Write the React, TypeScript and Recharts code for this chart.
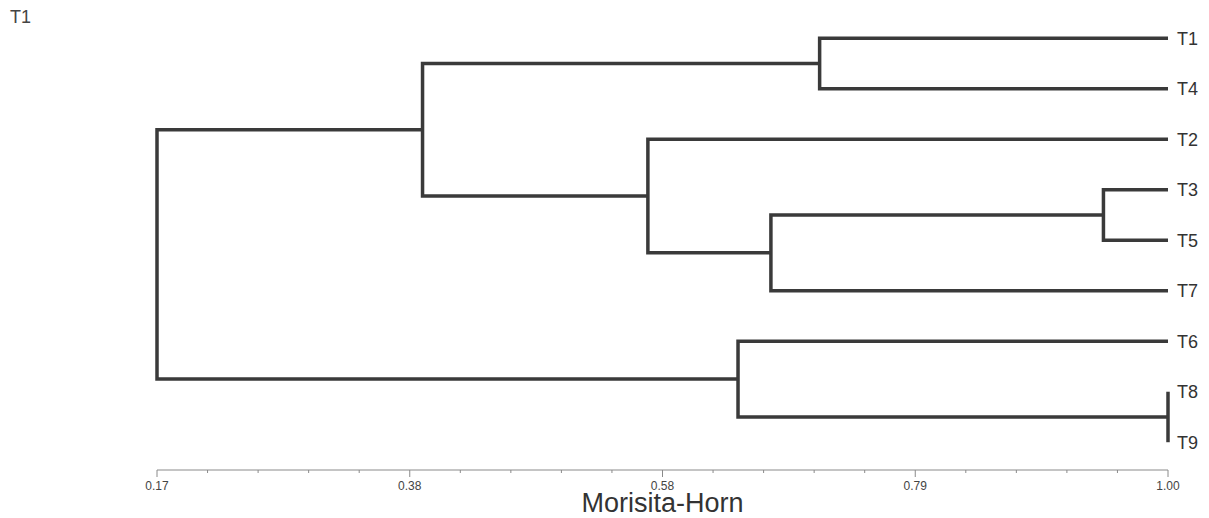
import React from 'react';
import { ComposedChart, Scatter, XAxis, YAxis, Label } from 'recharts';

// leaf order top -> bottom
const leaves = ['T1', 'T4', 'T2', 'T3', 'T5', 'T7', 'T6', 'T8', 'T9'];

// merge steps: left child, right child, similarity (Morisita-Horn)
const mergeIds = ['A', 'B', 'C', 'D', 'E', 'F', 'G', 'H'];
const mergeLeft = ['T1', 'T3', 'B', 'T2', 'A', 'T8', 'T6', 'E'];
const mergeRight = ['T4', 'T5', 'T7', 'C', 'D', 'T9', 'F', 'G'];
const mergeSim = [0.714, 0.947, 0.674, 0.573, 0.388, 1.0, 0.647, 0.17];

const xTickLabels = ['0.17', '0.38', '0.58', '0.79', '1.00'];
const xMin = 0.17;
const xMax = 1.0;

const W = 1209;
const H = 518;
const lineColor = '#3a3a3a';
const axisColor = '#8a8a8a';
const font = '"Liberation Sans", Arial, sans-serif';

// node positions: x = similarity, y = leaf slot
const nodes: Record<string, { x: number; y: number }> = {};
leaves.forEach((name, i) => {
  nodes[name] = { x: 1.0, y: i };
});

const segments = mergeIds.map((id, i) => {
  const l = nodes[mergeLeft[i]];
  const r = nodes[mergeRight[i]];
  const s = mergeSim[i];
  nodes[id] = { x: s, y: (l.y + r.y) / 2 };
  return [
    { x: l.x, y: l.y },
    { x: s, y: l.y },
    { x: s, y: r.y },
    { x: r.x, y: r.y },
  ];
});

// 4 major intervals, 5 minor steps each
const xTicks = Array.from({ length: 21 }, (_, k) => xMin + (k * (xMax - xMin)) / 20);
const leafTicks = leaves.map((_, i) => i);

const XTick = ({ x, y, index }: any) => {
  const major = index % 5 === 0;
  return (
    <g>
      <line x1={x} x2={x} y1={y} y2={y + (major ? 7 : 3)} stroke={axisColor} />
      {major && (
        <text x={x} y={y + 20} textAnchor="middle" fontSize={12} fill="#444" fontFamily={font}>
          {xTickLabels[index / 5]}
        </text>
      )}
    </g>
  );
};

export default function App() {
  return (
    <div
      style={{
        position: 'absolute',
        left: 0,
        top: 0,
        width: W,
        height: H,
        background: '#fff',
        fontFamily: font,
      }}
    >
      <div style={{ position: 'absolute', left: 10, top: 7, fontSize: 18, color: '#444' }}>T1</div>
      <ComposedChart width={W} height={H} margin={{ top: 13, right: 0, bottom: 0, left: 157 }}>
        <XAxis
          type="number"
          dataKey="x"
          domain={[xMin, xMax]}
          ticks={xTicks}
          interval={0}
          tick={<XTick />}
          tickLine={false}
          tickSize={0}
          tickMargin={0}
          axisLine={{ stroke: axisColor }}
          height={48}
        >
          <Label value="Morisita-Horn" position="insideBottom" offset={6} fontSize={27} fill="#333" />
        </XAxis>
        <YAxis
          type="number"
          dataKey="y"
          orientation="right"
          domain={[-0.5, 8.55]}
          reversed
          ticks={leafTicks}
          interval={0}
          tickFormatter={(v: number) => leaves[v]}
          axisLine={false}
          tickLine={false}
          tickSize={0}
          tickMargin={9}
          width={41}
          tick={{ fill: '#333', fontSize: 18 }}
        />
        {segments.map((pts, i) => (
          <Scatter
            key={mergeIds[i]}
            data={pts}
            line={{ stroke: lineColor, strokeWidth: 3.5 }}
            shape={() => <g />}
            isAnimationActive={false}
          />
        ))}
      </ComposedChart>
    </div>
  );
}
